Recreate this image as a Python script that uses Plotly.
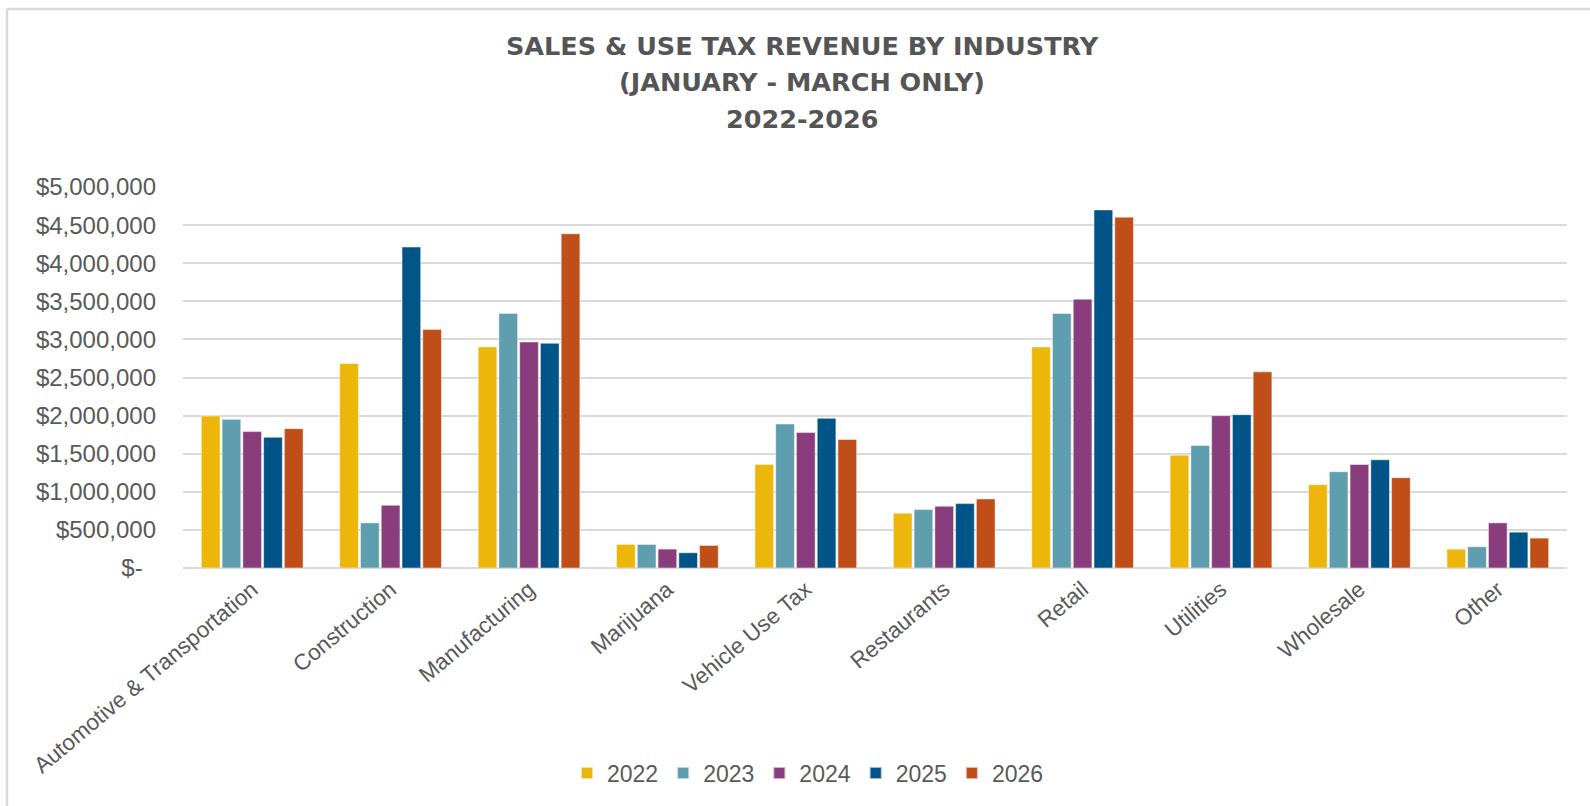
import plotly.graph_objects as go

# Quarterly (Jan-Mar) sales & use tax revenue by industry
industries = [
    "Automotive & Transportation", "Construction", "Manufacturing", "Marijuana",
    "Vehicle Use Tax", "Restaurants", "Retail", "Utilities", "Wholesale", "Other",
]
years = ["2022", "2023", "2024", "2025", "2026"]

rev_2022 = [1995000, 2683000, 2901000, 309000, 1359000, 719000, 2901000, 1481000, 1093000, 248000]
rev_2023 = [1951000, 592000, 3341000, 309000, 1890000, 767000, 3341000, 1607000, 1263000, 279000]
rev_2024 = [1790000, 823000, 2966000, 248000, 1777000, 810000, 3528000, 1999000, 1359000, 592000]
rev_2025 = [1716000, 4212000, 2949000, 200000, 1964000, 845000, 4699000, 2012000, 1420000, 470000]
rev_2026 = [1829000, 3131000, 4386000, 296000, 1686000, 906000, 4604000, 2574000, 1185000, 392000]

y_ticks = [0, 500000, 1000000, 1500000, 2000000, 2500000, 3000000, 3500000, 4000000, 4500000, 5000000]
y_tick_text = ["$-\u00a0\u00a0", "$500,000", "$1,000,000", "$1,500,000", "$2,000,000", "$2,500,000",
               "$3,000,000", "$3,500,000", "$4,000,000", "$4,500,000", "$5,000,000"]

title_lines = ["SALES & USE TAX REVENUE BY INDUSTRY", "(JANUARY - MARCH ONLY)", "2022-2026"]

colors = ["#ECB70A", "#5E9EAF", "#8A3D7C", "#015488", "#BF4E19"]
series = [rev_2022, rev_2023, rev_2024, rev_2025, rev_2026]

W, H = 1590, 806
ML, MR, MT, MB = 183, 23, 186.5, 237.5
PW, PH = W - ML - MR, H - MT - MB


def px_x(x):
    return (x - ML) / PW


def px_y(y):
    return (H - MB - y) / PH


fig = go.Figure()
for yr, vals, col in zip(years, series, colors):
    fig.add_trace(go.Bar(
        name=yr, x=industries, y=vals,
        marker=dict(color=col, line=dict(color="rgba(255,255,255,0.6)", width=0.8)),
    ))

text_font = "Liberation Sans, Arial, sans-serif"
grey = "#595959"

annotations = []
for line, yc in zip(title_lines, [45.5, 81.5, 118]):
    annotations.append(dict(
        text=f"<b>{line}</b>", x=px_x(802), y=px_y(yc), xref="paper", yref="paper",
        xanchor="center", yanchor="middle", showarrow=False,
        font=dict(family="DejaVu Sans, Verdana, sans-serif", size=25.5, color="#555555"),
    ))

frame = dict(color="#D9D9D9", width=2.5)
shapes = [
    dict(type="line", xref="paper", yref="paper", x0=px_x(7), x1=px_x(7),
         y0=px_y(8), y1=px_y(H + 2), line=frame),
    dict(type="line", xref="paper", yref="paper", x0=px_x(7), x1=px_x(W + 2),
         y0=px_y(8), y1=px_y(8), line=frame),
]

fig.update_layout(
    width=W, height=H,
    margin=dict(l=ML, r=MR, t=MT, b=MB, autoexpand=False),
    paper_bgcolor="white", plot_bgcolor="white",
    barmode="group", bargap=0.25, bargroupgap=0.1,
    font=dict(family=text_font, color=grey, size=24),
    showlegend=True,
    legend=dict(orientation="h", x=px_x(808), y=px_y(774), xanchor="center", yanchor="middle",
                font=dict(size=23, color=grey), itemsizing="constant", traceorder="normal"),
    annotations=annotations,
    shapes=shapes,
    xaxis=dict(tickangle=-40, tickfont=dict(size=22.5, color=grey), showgrid=False,
               showline=False, ticks="", ticklabelstandoff=3),
    yaxis=dict(range=[0, 5000000], tickvals=y_ticks, ticktext=y_tick_text,
               tickfont=dict(size=24, color=grey), showgrid=True, gridcolor="#D9D9D9",
               gridwidth=1.5, zeroline=True, zerolinecolor="#D9D9D9", zerolinewidth=1.5,
               showline=False, ticks="", ticklabelstandoff=26),
)

fig.write_html("out.html")
